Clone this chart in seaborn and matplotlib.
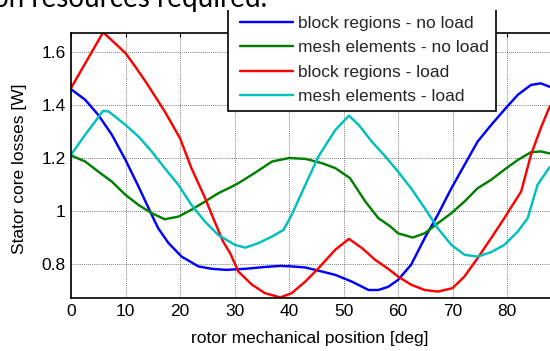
import numpy as np
import pandas as pd
import matplotlib
matplotlib.use("Agg")
import matplotlib.pyplot as plt
import seaborn as sns
from matplotlib.ticker import FixedLocator, FixedFormatter
from matplotlib.lines import Line2D
from matplotlib.legend_handler import HandlerLine2D
from matplotlib.patches import Rectangle

# ---- data ----
x_block_noload = [0, 2.6, 5, 7.5, 10, 12.4, 14.8, 16, 17.9, 20.3, 23.4, 25.8, 28.5, 32, 35.6,
                  38.4, 40.5, 43, 46, 48.5, 51.5, 54.6, 56.4, 58.2, 60, 62.4, 64.9, 67.3, 69.8,
                  72.2, 74.6, 77.1, 79.5, 82, 84.4, 86.2, 87.7, 90]
y_block_noload = [1.458, 1.418, 1.361, 1.286, 1.191, 1.09, 0.984, 0.933, 0.877, 0.826, 0.789,
                  0.78, 0.776, 0.78, 0.787, 0.791, 0.789, 0.785, 0.77, 0.757, 0.732, 0.70, 0.70,
                  0.712, 0.738, 0.795, 0.896, 0.984, 1.084, 1.172, 1.26, 1.323, 1.38, 1.437,
                  1.474, 1.48, 1.468, 1.458]

x_mesh_noload = [0, 2.6, 5, 7.5, 10, 12.4, 14.8, 17.2, 19.7, 22.1, 24.6, 27, 29.5, 30.7, 33.2,
                 36.9, 40, 43, 46, 48.5, 51.2, 54, 56.4, 58.6, 60, 62.7, 64.9, 67.3, 69.8, 72.2,
                 74.6, 77.1, 79.5, 82, 84.4, 86.2, 87.7, 90]
y_mesh_noload = [1.208, 1.185, 1.147, 1.109, 1.059, 1.021, 0.99, 0.967, 0.977, 1.003, 1.034,
                 1.065, 1.09, 1.103, 1.135, 1.185, 1.198, 1.195, 1.179, 1.16, 1.122, 1.034,
                 0.971, 0.94, 0.914, 0.898, 0.914, 0.952, 0.99, 1.034, 1.084, 1.116, 1.154,
                 1.191, 1.22, 1.223, 1.216, 1.208]

x_block_load = [0, 5.9, 10, 11.8, 13.9, 17.2, 20, 22.1, 24.6, 26.1, 27.9, 29.2, 30.7, 33.2, 35.6,
                38.4, 40.5, 43, 45.4, 48.5, 51, 53.4, 55.8, 58.2, 60, 62.4, 64.9, 67.3, 70, 72.2,
                74.6, 77.1, 79.5, 82.6, 84.4, 86.2, 87.7, 90]
y_block_load = [1.462, 1.673, 1.594, 1.543, 1.48, 1.374, 1.273, 1.16, 1.047, 0.971, 0.883, 0.839,
                0.77, 0.72, 0.688, 0.672, 0.688, 0.732, 0.782, 0.852, 0.893, 0.858, 0.814, 0.78,
                0.751, 0.72, 0.70, 0.694, 0.707, 0.751, 0.82, 0.896, 0.971, 1.072, 1.21, 1.311,
                1.386, 1.462]

x_mesh_load = [0, 2.6, 5.9, 6.9, 10, 12.4, 14.8, 17.2, 19.7, 22.1, 24.6, 27, 29.2, 30.1, 32,
               34.4, 36.9, 39, 40.5, 43, 45.4, 48.5, 51, 52.8, 55.2, 57.6, 60, 62.4, 64.9, 67.3,
               69.8, 72.2, 74.6, 77.1, 79.5, 82, 83.8, 85.6, 87.7, 90]
y_mesh_load = [1.21, 1.286, 1.376, 1.374, 1.323, 1.279, 1.223, 1.16, 1.097, 1.021, 0.958, 0.908,
               0.881, 0.87, 0.86, 0.877, 0.902, 0.927, 0.984, 1.097, 1.204, 1.304, 1.358, 1.323,
               1.26, 1.206, 1.147, 1.084, 1.009, 0.933, 0.87, 0.833, 0.826, 0.843, 0.87, 0.921,
               0.971, 1.097, 1.16, 1.21]

series_names = ["block regions - no load", "mesh elements - no load",
                "block regions - load", "mesh elements - load"]
series_colors = ["#0000FF", "#008000", "#FF0000", "#00BFBF"]

x_ticks = [0, 10, 20, 30, 40, 50, 60, 70, 80]
x_tick_labels = ["0", "10", "20", "30", "40", "50", "60", "70", "80"]
y_ticks = [0.8, 1.0, 1.2, 1.4, 1.6]
y_tick_labels = ["0.8", "1", "1.2", "1.4", "1.6"]

xlabel_text = "rotor mechanical position [deg]"
ylabel_text = "Stator core losses [W]"
top_text = "on resources required."

# ---- build long table ----
frames = []
for name, xs, ys in zip(series_names,
                        [x_block_noload, x_mesh_noload, x_block_load, x_mesh_load],
                        [y_block_noload, y_mesh_noload, y_block_load, y_mesh_load]):
    frames.append(pd.DataFrame({"x": xs, "y": ys, "series": name}))
df = pd.concat(frames, ignore_index=True)

sns.set_style("white")
plt.rcParams["font.family"] = ["Liberation Sans", "DejaVu Sans"]

W, H = 550, 351
fig = plt.figure(figsize=(W / 100, H / 100), dpi=100)
ax_left, ax_right, ax_top, ax_bottom = 71, 561.5, 33, 297.5
ax = fig.add_axes([ax_left / W, 1 - ax_bottom / H, (ax_right - ax_left) / W, (ax_bottom - ax_top) / H])

LW = 1.75
sns.lineplot(data=df, x="x", y="y", hue="series", hue_order=series_names,
             palette=series_colors, linewidth=LW, ax=ax, legend=False,
             estimator=None, sort=True)

ax.set_xlim(0, 90)
ax.set_ylim(0.6717, 1.67)
ax.xaxis.set_major_locator(FixedLocator(x_ticks))
ax.xaxis.set_major_formatter(FixedFormatter(x_tick_labels))
ax.yaxis.set_major_locator(FixedLocator(y_ticks))
ax.yaxis.set_major_formatter(FixedFormatter(y_tick_labels))

ax.grid(True, color="0.3", linestyle=(0, (1, 1.5)), linewidth=0.6)
for s in ax.spines.values():
    s.set_color("black")
    s.set_linewidth(1.2)
ax.tick_params(direction="in", length=3, width=0.8, color="black",
               top=True, right=True, labelsize=12.5, labelcolor="black")
ax.tick_params(axis="x", pad=5)
ax.tick_params(axis="y", pad=4)

ax.set_xlabel(xlabel_text, fontsize=12.5, color="black")
ax.set_ylabel(ylabel_text, fontsize=12.5, color="black")
ax.xaxis.set_label_coords((310 - ax_left) / (ax_right - ax_left), (ax_bottom - 339) / (ax_bottom - ax_top))
ax.xaxis.label.set_va("center")
ax.yaxis.set_label_coords((20 - ax_left) / (ax_right - ax_left), (ax_bottom - 169) / (ax_bottom - ax_top))
ax.yaxis.label.set_va("center")

# legend
handles = [Line2D([], [], color=c, linewidth=LW) for c in series_colors]
leg = fig.legend(handles, series_names, loc="lower left",
                 bbox_to_anchor=(228 / W, 1 - 111 / H), borderaxespad=0,
                 fontsize=12.5, frameon=True, fancybox=False, framealpha=1,
                 edgecolor="black", handlelength=3.34, handletextpad=0.29,
                 labelspacing=0.53, borderpad=0.4,
                 handler_map={Line2D: HandlerLine2D(xpad=0.29)})
leg.get_frame().set_linewidth(1.2)

# band at the top of the page (covers the legend top, as in the reference)
fig.add_artist(Rectangle((0, 1 - 10 / H), 1, 10 / H, transform=fig.transFigure,
                         facecolor="white", edgecolor="none", zorder=10))
fig.text(267 / W, 1 - 6.5 / H, top_text, ha="right", va="baseline",
         fontsize=20, family=["Lato", "DejaVu Sans"], color="black", zorder=11)

fig.savefig("out.png", dpi=100)
